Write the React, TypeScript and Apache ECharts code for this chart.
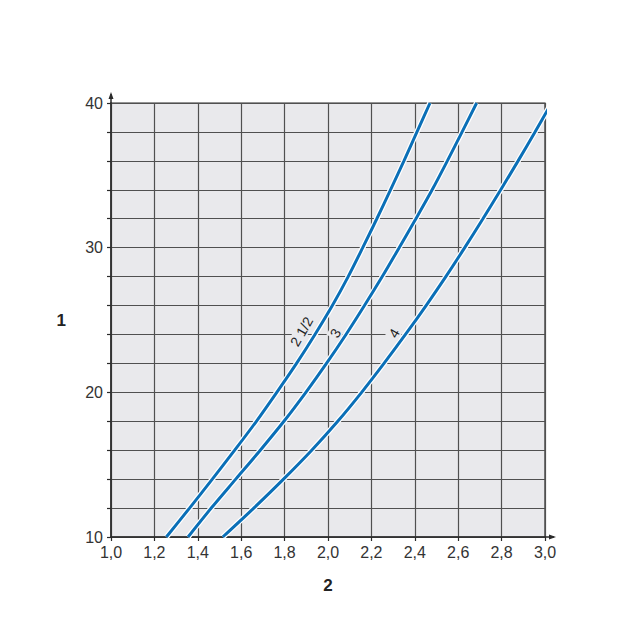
import React, { useEffect, useRef } from "react";
import * as echarts from "echarts";

// y values (axis "1") where each curve was read
const yValues = [10, 12, 14, 16, 18, 20, 22, 24, 26, 28, 30, 32, 34, 36, 38, 40];
// x values (axis "2") of each curve at those y values
const curve2half = [1.255, 1.362, 1.467, 1.57, 1.67, 1.764, 1.855, 1.94, 2.02, 2.093, 2.16, 2.225, 2.288, 2.35, 2.41, 2.47];
const curve3 = [1.355, 1.462, 1.575, 1.688, 1.797, 1.898, 1.993, 2.083, 2.168, 2.25, 2.328, 2.405, 2.48, 2.55, 2.618, 2.685];
const curve4 = [1.515, 1.658, 1.795, 1.925, 2.045, 2.155, 2.258, 2.357, 2.452, 2.543, 2.63, 2.714, 2.796, 2.876, 2.954, 3.03];

const curveNames = ["2 1/2", "3", "4"];
// label anchor positions in data coordinates [x, y]
const labelPos: [number, number][] = [[1.878, 24.2], [2.034, 24.1], [2.305, 24.1]];

const xMin = 1.0, xMax = 3.0, xStep = 0.2;
const yMin = 10, yMax = 40, yStep = 2;
const xName = "2";
const yName = "1";

const BLUE = "#0a6fb7";
const BG = "#e9e9ec";
const GRIDC = "#505050";
const AXISC = "#2a2a2a";

const G = { left: 111, right: 89, top: 103, bottom: 97 };

export default function App() {
  const ref = useRef<HTMLDivElement>(null);
  useEffect(() => {
    if (!ref.current) return;
    const chart = echarts.init(ref.current, undefined, { renderer: "svg" });
    const mk = (xs: number[], ys: number[]) => xs.map((x, i) => [x, ys[i]]);
    const datasets = [mk(curve2half, yValues), mk(curve3, yValues), mk(curve4, yValues)];
    const series: any[] = [];
    datasets.forEach((d, i) => {
      series.push({
        type: "line", name: curveNames[i] + "-halo", data: d, smooth: 0.3, showSymbol: false,
        lineStyle: { color: "#ffffff", width: 5.5 }, z: 2, silent: true, clip: true,
      });
    });
    datasets.forEach((d, i) => {
      series.push({
        type: "line", name: curveNames[i], data: d, smooth: 0.3, showSymbol: false,
        lineStyle: { color: BLUE, width: 3 }, z: 3, clip: true,
      });
    });
    chart.setOption({
      animation: false,
      backgroundColor: "#ffffff",
      grid: { ...G, show: true, backgroundColor: BG, borderColor: AXISC, borderWidth: 1.2 },
      xAxis: {
        type: "value", min: xMin, max: xMax, interval: xStep,
        name: xName, nameLocation: "middle", nameGap: 40,
        nameTextStyle: { fontSize: 17, fontWeight: "bold", color: "#222", fontFamily: "Liberation Sans, Arial" },
        axisLine: { show: true, lineStyle: { color: AXISC, width: 1.5 } },
        axisTick: { show: true, length: 4, lineStyle: { color: AXISC, width: 1.2 } },
        axisLabel: {
          margin: 7, color: "#333", fontSize: 16, fontFamily: "Liberation Sans, Arial",
          formatter: (v: number) => v.toFixed(1).replace(".", ","),
        },
        splitLine: { show: true, lineStyle: { color: GRIDC, width: 1.2 } },
      },
      yAxis: {
        type: "value", min: yMin, max: yMax, interval: yStep,
        name: yName, nameLocation: "middle", nameGap: 45, nameRotate: 0,
        nameTextStyle: { fontSize: 17, fontWeight: "bold", color: "#222", fontFamily: "Liberation Sans, Arial" },
        axisLine: { show: true, lineStyle: { color: AXISC, width: 1.5 } },
        axisTick: { show: true, length: 4, lineStyle: { color: AXISC, width: 1.2 } },
        axisLabel: {
          margin: 8, color: "#333", fontSize: 16, fontFamily: "Liberation Sans, Arial",
          formatter: (v: number) => (Math.round(v) % 10 === 0 ? String(Math.round(v)) : ""),
        },
        splitLine: { show: true, lineStyle: { color: GRIDC, width: 1.2 } },
      },
      series,
    });
    const p0 = chart.convertToPixel({ gridIndex: 0 }, [xMin, yMin]) as number[];
    const p1 = chart.convertToPixel({ gridIndex: 0 }, [xMax, yMax]) as number[];
    const labels = labelPos.map((pos, i) => {
      const p = chart.convertToPixel({ gridIndex: 0 }, pos) as number[];
      return {
        type: "text", x: p[0], y: p[1], rotation: (60 * Math.PI) / 180, z: 10,
        style: {
          text: curveNames[i], fill: "#222", font: "14px 'Liberation Sans', Arial, sans-serif",
          align: "center", verticalAlign: "middle", backgroundColor: BG, padding: [0, 2],
        },
      };
    });
    chart.setOption({
      graphic: [
        { type: "line", shape: { x1: p0[0], y1: p1[1], x2: p0[0], y2: p1[1] - 9 }, style: { stroke: AXISC, lineWidth: 1.5 }, z: 10 },
        { type: "polygon", shape: { points: [[p0[0], p1[1] - 11], [p0[0] - 2.5, p1[1] - 4], [p0[0] + 2.5, p1[1] - 4]] }, style: { fill: AXISC }, z: 10 },
        { type: "line", shape: { x1: p1[0], y1: p0[1], x2: p1[0] + 9, y2: p0[1] }, style: { stroke: AXISC, lineWidth: 1.5 }, z: 10 },
        { type: "polygon", shape: { points: [[p1[0] + 11, p0[1]], [p1[0] + 4, p0[1] - 2.5], [p1[0] + 4, p0[1] + 2.5]] }, style: { fill: AXISC }, z: 10 },
        ...labels,
      ],
    });
    return () => chart.dispose();
  }, []);
  return <div ref={ref} style={{ width: 634, height: 634, position: "absolute", left: 0, top: 0 }} />;
}
